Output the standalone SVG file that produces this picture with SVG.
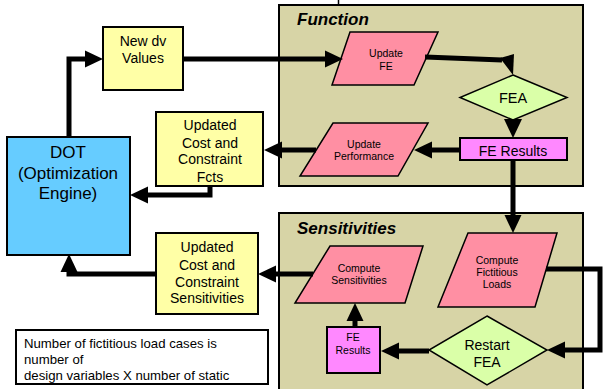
<svg xmlns="http://www.w3.org/2000/svg" width="604" height="389" viewBox="0 0 604 389">
<style>
text{font-family:"Liberation Sans",Arial,sans-serif;fill:#000;text-anchor:middle}
.panel{fill:#D7D4A6;stroke:#000;stroke-width:2}
.yel{fill:#FFFFA6;stroke:#000;stroke-width:2}
.blue{fill:#66CCFF;stroke:#000;stroke-width:2}
.pink{fill:#FF8FA3;stroke:#000;stroke-width:1.5}
.green{fill:#DAFFA8;stroke:#000;stroke-width:1.5}
.mag{fill:#FF88FF;stroke:#000;stroke-width:2}
.note{fill:#fff;stroke:#000;stroke-width:2}
.title{font-size:17px;font-weight:bold;font-style:italic;text-anchor:start}
.t14{font-size:14px}
.t17{font-size:17px}
.t10{font-size:10.5px}
.nt{font-size:13.2px;text-anchor:start}
.conn{fill:none;stroke:#000;stroke-width:5}
</style>
<defs>
<marker id="ah" markerUnits="userSpaceOnUse" markerWidth="18" markerHeight="17" refX="0" refY="8.5" orient="auto" overflow="visible">
<path d="M0,0 L18,8.5 L0,17 Z" fill="#000"/>
</marker>
<clipPath id="noteclip"><rect x="16" y="330" width="252" height="54"/></clipPath>
</defs>

<line x1="338.5" y1="0" x2="338.5" y2="5" stroke="#000" stroke-width="1.5"/>

<g id="function-panel">
<rect class="panel" x="279" y="5" width="304" height="181"/>
<text class="title" x="297" y="25">Function</text>
</g>
<g id="sensitivities-panel">
<rect class="panel" x="279" y="213" width="304" height="190"/>
<text class="title" x="297" y="234">Sensitivities</text>
</g>

<g id="new-dv">
<rect class="yel" x="103" y="27" width="80" height="63"/>
<text class="t14" x="143" y="46">New dv</text>
<text class="t14" x="143" y="63">Values</text>
</g>

<g id="updated-fcts">
<rect class="yel" x="156" y="112" width="107" height="74"/>
<text class="t14" x="210" y="130">Updated</text>
<text class="t14" x="210" y="148">Cost and</text>
<text class="t14" x="210" y="164">Constraint</text>
<text class="t14" x="210" y="182">Fcts</text>
</g>

<g id="dot">
<rect class="blue" x="7" y="137" width="123" height="118"/>
<text class="t17" x="68" y="158">DOT</text>
<text class="t17" x="68" y="179">(Optimization</text>
<text class="t17" x="68" y="199">Engine)</text>
</g>

<g id="updated-sens">
<rect class="yel" x="156" y="233" width="102" height="81"/>
<text class="t14" x="207" y="252">Updated</text>
<text class="t14" x="207" y="270">Cost and</text>
<text class="t14" x="207" y="287">Constraint</text>
<text class="t14" x="207" y="303">Sensitivities</text>
</g>

<g id="note">
<rect class="note" x="16" y="330" width="252" height="54"/>
<g clip-path="url(#noteclip)">
<text class="nt" x="24" y="348">Number of fictitious load cases is</text>
<text class="nt" x="24" y="364">number of</text>
<text class="nt" x="24" y="380">design variables X number of static</text>
</g>
</g>

<g id="update-fe">
<polygon class="pink" points="350,32 438,32 414,85 332,85"/>
<text class="t10" x="386" y="57">Update</text>
<text class="t10" x="386" y="70">FE</text>
</g>

<g id="fea">
<polygon class="green" points="513,75 567,97.5 513,120 460,97.5"/>
<text x="513" y="103" style="font-size:14.5px">FEA</text>
</g>

<g id="fe-results">
<rect class="mag" x="460" y="138" width="107" height="22"/>
<text class="t14" x="513" y="156">FE Results</text>
</g>

<g id="update-performance">
<polygon class="pink" points="333,123 428,123 398,176 300,176"/>
<text class="t10" x="364" y="148">Update</text>
<text class="t10" x="364" y="160">Performance</text>
</g>

<g id="compute-fictitious">
<polygon class="pink" points="468,233 557,233 535,307 438,307"/>
<text class="t10" x="497" y="264">Compute</text>
<text class="t10" x="497" y="276">Fictitious</text>
<text class="t10" x="497" y="288">Loads</text>
</g>

<g id="compute-sens">
<polygon class="pink" points="330,246 423,246 405,303 295,303"/>
<text class="t10" x="359" y="272">Compute</text>
<text class="t10" x="359" y="284">Sensitivities</text>
</g>

<g id="restart-fea">
<polygon class="green" points="487,316 547,350 487,385 429,350"/>
<text class="t14" x="487" y="350">Restart</text>
<text class="t14" x="487" y="367">FEA</text>
</g>

<g id="fe-results-small">
<rect class="mag" x="327" y="327" width="53" height="46"/>
<text class="t10" x="353" y="341">FE</text>
<text class="t10" x="353" y="354">Results</text>
</g>

<g id="connectors">
<path class="conn" d="M69,137 V59 H85" marker-end="url(#ah)"/>
<path class="conn" d="M183,59 H325" marker-end="url(#ah)"/>
<path class="conn" d="M425,57 L502,60"/>
<polygon points="500,58 514,54 513,75" fill="#000"/>
<polygon points="504,119 522,119 513,138" fill="#000"/>
<path class="conn" d="M460,150 H432" marker-end="url(#ah)"/>
<path class="conn" d="M316,150 H282" marker-end="url(#ah)"/>
<path class="conn" d="M210,186 V195 H148" marker-end="url(#ah)"/>
<path class="conn" d="M513,160 V215" marker-end="url(#ah)"/>
<path class="conn" d="M546,269 H600 V350 H565" marker-end="url(#ah)"/>
<path class="conn" d="M429,351 H399" marker-end="url(#ah)"/>
<path class="conn" d="M355,327 V321" marker-end="url(#ah)"/>
<path class="conn" d="M313,274 H276" marker-end="url(#ah)"/>
<path class="conn" d="M156,274 H69 V272" marker-end="url(#ah)"/>
</g>
</svg>
